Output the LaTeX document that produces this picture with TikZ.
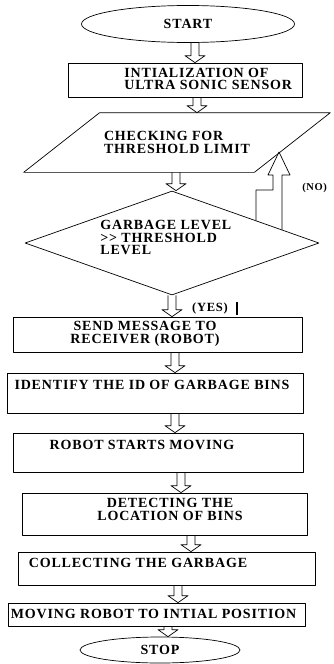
\documentclass[tikz,border=0pt]{standalone}
\usepackage{fontspec}
\setmainfont{Liberation Serif}
\newfontfamily\flowfont[LetterSpace=6]{Liberation Serif}
\usetikzlibrary{shapes.geometric,calc}

\tikzset{
  box/.style={draw, rectangle, inner sep=0pt},
  txt/.style={font=\flowfont\bfseries\fontsize{14}{12.5}\selectfont, inner sep=0pt},
  small/.style={font=\flowfont\bfseries\fontsize{10.5}{11}\selectfont, inner sep=0pt},
}
% hollow block arrow between two nodes, at a given x
\newcommand{\flowarrow}[3]{%
  \draw let \p1=(#2.south), \p2=(#3.north) in
    (#1pt-4pt,\y1) -- (#1pt-4pt,\y2+7pt) -- (#1pt-10pt,\y2+7pt) -- (#1pt,\y2)
    -- (#1pt+10pt,\y2+7pt) -- (#1pt+4pt,\y2+7pt) -- (#1pt+4pt,\y1);}

\begin{document}
\begin{tikzpicture}[x=1pt, y=-1pt, line join=round, line width=0.7pt]
  \useasboundingbox (0,0) rectangle (333,664);

  % shapes
  \node[draw, ellipse, minimum width=213pt, minimum height=37pt, inner sep=0pt, txt] (start) at (188,24) {START};
  \node[box, minimum width=234pt, minimum height=34pt] (init) at (185,80) {};
  \node[minimum width=306pt, minimum height=59pt, inner sep=0pt, txt, align=left] (check) at (177,142.5)
        {CHECKING FOR\\THRESHOLD LIMIT};
  \draw (check.south west) -- ($(check.north west)+(76,0)$) -- (check.north east)
    -- ($(check.south east)+(-76,0)$) -- cycle;
  \node[draw, diamond, minimum width=294pt, minimum height=104pt, inner sep=0pt] (level) at (172,243) {};
  \node[box, minimum width=289pt, minimum height=35pt] (send) at (157.5,334.5) {};
  \node[box, minimum width=296pt, minimum height=40pt] (ident) at (155,393) {};
  \node[box, minimum width=290pt, minimum height=39pt] (moving) at (158,452.5) {};
  \node[box, minimum width=285pt, minimum height=42pt] (detect) at (164.5,514) {};
  \node[box, minimum width=297pt, minimum height=33pt] (collect) at (166.5,568.5) {};
  \node[box, minimum width=297pt, minimum height=23pt] (home) at (156.5,614.5) {};
  \node[draw, ellipse, minimum width=160pt, minimum height=26pt, inner sep=0pt, txt] (stop) at (160,650) {STOP};

  % texts
  \node[txt, anchor=west, align=left] (initTxt) at (124,79) {INTIALIZATION OF\\ULTRA SONIC SENSOR};
  \node[txt, anchor=west, align=left] (levelTxt) at (100,237.5) {GARBAGE LEVEL\\{>}{>} THRESHOLD\\LEVEL};
  \node[txt, align=center] (sendTxt) at (145,334) {SEND MESSAGE TO\\RECEIVER (ROBOT)};
  \node[txt] (identTxt) at (152,385) {IDENTIFY THE ID OF GARBAGE BINS};
  \node[txt] (movingTxt) at (142,445) {ROBOT STARTS MOVING};
  \node[txt, align=center] (detectTxt) at (170,509.5) {DETECTING THE\\LOCATION OF BINS};
  \node[txt] (collectTxt) at (138,563) {COLLECTING THE GARBAGE};
  \node[txt] (homeTxt) at (153.5,614) {MOVING ROBOT TO INTIAL POSITION};
  \node[txt, font=\flowfont\bfseries\fontsize{12.5}{12}\selectfont] (yesTxt) at (210,308) {(YES)};
  \node[small, anchor=west] (noTxt) at (302,188) {(NO)};
  \draw[line width=1.2pt] (237,302) -- (237,315);

  % arrows
  \foreach \ax/\src/\dst in {195/start/init, 197/init/check, 176/check/level, 172/level/send,
      175/send/ident, 175/ident/moving, 181/moving/detect, 191/detect/collect,
      178/collect/home, 168/home/stop}
    \flowarrow{\ax}{\src}{\dst};

  % (NO) loop back
  \draw (256,220.7) -- (256,190) -- (273,190) -- (273,175) -- (268,175) -- (279,152)
    -- (290,175) -- (282,175) -- (282,229.9);
\end{tikzpicture}
\end{document}
